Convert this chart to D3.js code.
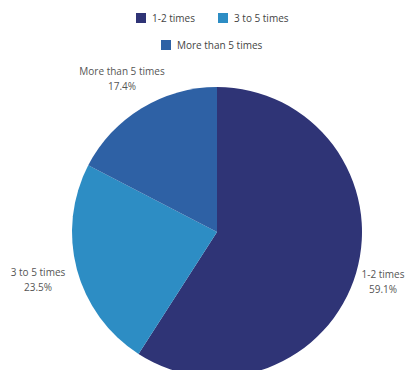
<!DOCTYPE html>
<html>
<head>
<meta charset="utf-8">
<script src="https://cdn.jsdelivr.net/npm/d3@7"></script>
<style>
html,body{margin:0;padding:0;background:#fff;}
svg{display:block;}
text{font-family:"Open Sans",sans-serif;}
</style>
</head>
<body>
<svg id="chart" width="411" height="370"></svg>
<script>
const categories = ["1-2 times", "3 to 5 times", "More than 5 times"];
const values = [59.1, 23.5, 17.4];
const colors = ["#2f3476", "#2d8dc4", "#2e61a5"];

const svg = d3.select("#chart");
const cx = 217, cy = 232, r = 145;

const pie = d3.pie().sort(null).value(d => d.value);
const data = categories.map((c, i) => ({cat: c, value: values[i], color: colors[i]}));
const arcs = pie(data);
const arc = d3.arc().innerRadius(0).outerRadius(r);

const g = svg.append("g").attr("transform", `translate(${cx},${cy})`);
g.selectAll("path").data(arcs).enter().append("path")
  .attr("d", arc)
  .attr("fill", d => d.data.color);

// labels outside
const labelPos = [[166, 46], [-179, 44], [-95, -157]];
arcs.forEach((a, i) => {
  const t = g.append("text")
    .attr("text-anchor", "middle")
    .attr("font-size", 10)
    .attr("fill", "#555");
  t.append("tspan").attr("x", labelPos[i][0]).attr("y", labelPos[i][1]).text(a.data.cat);
  t.append("tspan").attr("x", labelPos[i][0]).attr("y", labelPos[i][1] + 14.5).text(a.data.value.toFixed(1) + "%");
});

// legend
const legendItems = [
  {i: 0, x: 136, y: 13},
  {i: 1, x: 218, y: 13},
  {i: 2, x: 161, y: 40}
];
legendItems.forEach(li => {
  svg.append("rect").attr("x", li.x).attr("y", li.y).attr("width", 10).attr("height", 10)
    .attr("fill", colors[li.i]);
  svg.append("text").attr("x", li.x + 16).attr("y", li.y + 9)
    .attr("font-size", 10).attr("fill", "#444").text(categories[li.i]);
});
</script>
</body>
</html>
